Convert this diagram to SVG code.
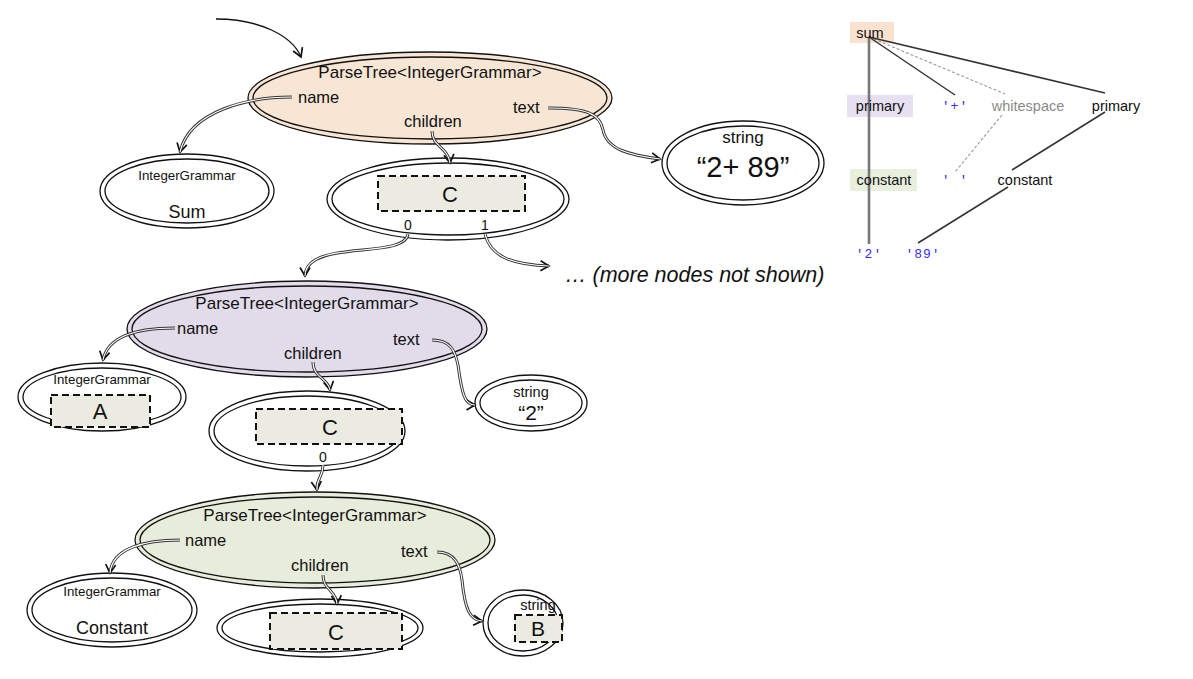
<svg xmlns="http://www.w3.org/2000/svg" xmlns:xlink="http://www.w3.org/1999/xlink" width="1193" height="679" viewBox="0 0 1193 679">
<style>
text{font-family:"Liberation Sans",Arial,sans-serif;fill:#111}
.lbl{font-size:16.5px}
.pt{font-size:17px;text-anchor:middle}
.small{font-size:13.3px;text-anchor:middle}
.str{font-size:14.5px;text-anchor:middle}
.mid{text-anchor:middle}
.o{stroke:#111;stroke-width:1.3}
.rect{fill:#ecebe2;stroke:#111;stroke-width:2;stroke-dasharray:7 4}
.co{fill:none;stroke:#333;stroke-width:3;marker-end:url(#arr)}
.ci{fill:none;stroke:#fff;stroke-width:1.1}
.tr{font-size:14.5px;text-anchor:middle}
.tok{font-family:"Liberation Mono","DejaVu Sans Mono",monospace;font-size:13px;fill:#3a2cff;text-anchor:middle;letter-spacing:1px}
.tl{stroke:#333;stroke-width:1.5;fill:none}
.td{stroke:#999;stroke-width:1.1;stroke-dasharray:3 2;fill:none}
</style>
<defs>
<marker id="arr" markerUnits="userSpaceOnUse" markerWidth="14" markerHeight="14" refX="10" refY="6" orient="auto" viewBox="0 0 14 12">
<path d="M1.5,1 L10,6 L1.5,11" fill="none" stroke="#111" stroke-width="1.7"/>
</marker>
<path id="p1" d="M292,97 C250,97 190,110 180,152"/>
<path id="p2" d="M432,131 C432,147 448,147 450,163"/>
<path id="p3" d="M548,108 C590,108 600,115 603,130 C607,150 630,155 660,159"/>
<path id="p4" d="M408,234 C405,255 340,245 315,260 C307,265 305,270 305,276"/>
<path id="p5" d="M485,234 C490,255 510,265 549,266"/>
<path id="p6" d="M175,328 C140,328 108,335 103,360"/>
<path id="p7" d="M313,362 C313,378 328,378 330,390"/>
<path id="p8" d="M432,340 C450,340 455,350 458,365 C462,395 465,405 475,405"/>
<path id="p9" d="M323,465 C323,478 316,478 317,490"/>
<path id="p10" d="M180,540 C145,540 112,548 110,573"/>
<path id="p11" d="M323,575 C323,590 336,590 337,604"/>
<path id="p12" d="M437,552 C455,552 460,565 462,580 C465,610 470,620 482,621"/>
</defs>

<g id="pt1">
<ellipse cx="430" cy="98" rx="182" ry="46" fill="#f8e6d5" class="o"/>
<ellipse cx="430" cy="98" rx="177" ry="41" fill="none" class="o"/>
<text x="430" y="78" class="pt">ParseTree&lt;IntegerGrammar&gt;</text>
<text x="298" y="103" class="lbl">name</text>
<text x="404" y="127" class="lbl">children</text>
<text x="513" y="113" class="lbl">text</text>
</g>

<g id="sum">
<ellipse cx="187" cy="191" rx="87" ry="37" fill="#fff" class="o"/>
<ellipse cx="187" cy="191" rx="82" ry="32" fill="none" class="o"/>
<text x="187" y="180" class="small">IntegerGrammar</text>
<text x="187" y="218" class="mid" font-size="18">Sum</text>
</g>

<g id="c1">
<ellipse cx="448" cy="199" rx="121" ry="41" fill="#fff" class="o"/>
<ellipse cx="448" cy="199" rx="116" ry="36" fill="none" class="o"/>
<rect x="378" y="176" width="147" height="35" class="rect"/>
<text x="450" y="202" class="mid" font-size="22">C</text>
<text x="408" y="230" class="mid" font-size="14">0</text>
<text x="485" y="230" class="mid" font-size="14">1</text>
</g>

<g id="str1">
<ellipse cx="743" cy="163" rx="81" ry="42" fill="#fff" class="o"/>
<ellipse cx="743" cy="163" rx="76" ry="37" fill="none" class="o"/>
<text x="743" y="143" class="mid" font-size="17">string</text>
<text x="743" y="177" class="mid" font-size="29">“2+ 89”</text>
</g>

<g id="more">
<text x="565" y="282" font-size="21.5" font-style="italic">… (more nodes not shown)</text>
</g>

<g id="pt2">
<ellipse cx="307" cy="329" rx="180" ry="48" fill="#e2dcea" class="o"/>
<ellipse cx="307" cy="329" rx="175" ry="43" fill="none" class="o"/>
<text x="307" y="309" class="pt">ParseTree&lt;IntegerGrammar&gt;</text>
<text x="177" y="334" class="lbl">name</text>
<text x="284" y="359" class="lbl">children</text>
<text x="393" y="345" class="lbl">text</text>
</g>

<g id="gramA">
<ellipse cx="102" cy="397" rx="84" ry="34" fill="#fff" class="o"/>
<ellipse cx="102" cy="397" rx="79" ry="29" fill="none" class="o"/>
<text x="102" y="384" class="small">IntegerGrammar</text>
<rect x="51" y="395" width="99" height="32" class="rect"/>
<text x="100" y="419" class="mid" font-size="22">A</text>
</g>

<g id="c2">
<ellipse cx="307" cy="431" rx="98" ry="40" fill="#fff" class="o"/>
<ellipse cx="307" cy="431" rx="93" ry="35" fill="none" class="o"/>
<rect x="256" y="409" width="146" height="35" class="rect"/>
<text x="330" y="435" class="mid" font-size="22">C</text>
<text x="323" y="462" class="mid" font-size="14">0</text>
</g>

<g id="str2">
<ellipse cx="531" cy="403" rx="56" ry="28" fill="#fff" class="o"/>
<ellipse cx="531" cy="403" rx="51" ry="23" fill="none" class="o"/>
<text x="531" y="397" class="str">string</text>
<text x="531" y="420" class="mid" font-size="21">“2”</text>
</g>

<g id="pt3">
<ellipse cx="315" cy="540" rx="180" ry="48" fill="#e8ecdb" class="o"/>
<ellipse cx="315" cy="540" rx="175" ry="43" fill="none" class="o"/>
<text x="315" y="521" class="pt">ParseTree&lt;IntegerGrammar&gt;</text>
<text x="185" y="546" class="lbl">name</text>
<text x="291" y="571" class="lbl">children</text>
<text x="401" y="557" class="lbl">text</text>
</g>

<g id="constant">
<ellipse cx="112" cy="610" rx="85" ry="37" fill="#fff" class="o"/>
<ellipse cx="112" cy="610" rx="80" ry="32" fill="none" class="o"/>
<text x="112" y="596" class="small">IntegerGrammar</text>
<text x="112" y="634" class="mid" font-size="18">Constant</text>
</g>

<g id="c3">
<ellipse cx="320" cy="628" rx="103" ry="29" fill="#fff" class="o"/>
<ellipse cx="320" cy="628" rx="98" ry="24" fill="none" class="o"/>
<rect x="270" y="613" width="132" height="36" class="rect"/>
<text x="336" y="640" class="mid" font-size="22">C</text>
</g>

<g id="str3">
<ellipse cx="523" cy="623" rx="40" ry="33" fill="#fff" class="o"/>
<ellipse cx="523" cy="623" rx="35" ry="28" fill="none" class="o"/>
<text x="538" y="610" class="str">string</text>
<rect x="515" y="615" width="47" height="27" class="rect"/>
<text x="538" y="636" class="mid" font-size="21">B</text>
</g>

<g id="connectors">
<path d="M216,19 C258,19 292,35 301,57" fill="none" stroke="#111" stroke-width="1.3" marker-end="url(#arr)"/>
<use xlink:href="#p1" href="#p1" class="co"/><use xlink:href="#p1" href="#p1" class="ci"/>
<use xlink:href="#p2" href="#p2" class="co"/><use xlink:href="#p2" href="#p2" class="ci"/>
<use xlink:href="#p3" href="#p3" class="co"/><use xlink:href="#p3" href="#p3" class="ci"/>
<use xlink:href="#p4" href="#p4" class="co"/><use xlink:href="#p4" href="#p4" class="ci"/>
<use xlink:href="#p5" href="#p5" class="co"/><use xlink:href="#p5" href="#p5" class="ci"/>
<use xlink:href="#p6" href="#p6" class="co"/><use xlink:href="#p6" href="#p6" class="ci"/>
<use xlink:href="#p7" href="#p7" class="co"/><use xlink:href="#p7" href="#p7" class="ci"/>
<use xlink:href="#p8" href="#p8" class="co"/><use xlink:href="#p8" href="#p8" class="ci"/>
<use xlink:href="#p9" href="#p9" class="co"/><use xlink:href="#p9" href="#p9" class="ci"/>
<use xlink:href="#p10" href="#p10" class="co"/><use xlink:href="#p10" href="#p10" class="ci"/>
<use xlink:href="#p11" href="#p11" class="co"/><use xlink:href="#p11" href="#p11" class="ci"/>
<use xlink:href="#p12" href="#p12" class="co"/><use xlink:href="#p12" href="#p12" class="ci"/>
</g>

<g id="tree">
<rect x="850" y="22" width="44" height="21" fill="#f9e3cf"/>
<rect x="847" y="95" width="66" height="22" fill="#e6e0f0"/>
<rect x="850" y="169" width="67" height="22" fill="#e8efdc"/>
<line x1="869" y1="37" x2="869" y2="244" stroke="#777" stroke-width="2.6"/>
<line x1="869" y1="37" x2="955" y2="95" class="tl"/>
<line x1="869" y1="37" x2="1005" y2="94" class="td"/>
<line x1="869" y1="37" x2="1105" y2="93" class="tl"/>
<line x1="1002" y1="115" x2="955" y2="172" class="td"/>
<line x1="1105" y1="112" x2="1012" y2="170" class="tl"/>
<line x1="1008" y1="187" x2="918" y2="243" class="tl"/>
<text x="870" y="38" class="tr">sum</text>
<text x="880" y="111" class="tr">primary</text>
<text x="955" y="110" class="tok">'+'</text>
<text x="1028" y="111" class="tr" style="fill:#8a8a8a">whitespace</text>
<text x="1116" y="111" class="tr">primary</text>
<text x="884" y="185" class="tr">constant</text>
<text x="955" y="184" class="tok">' '</text>
<text x="1025" y="185" class="tr">constant</text>
<text x="869" y="258" class="tok">'2'</text>
<text x="923" y="258" class="tok">'89'</text>
</g>
</svg>
